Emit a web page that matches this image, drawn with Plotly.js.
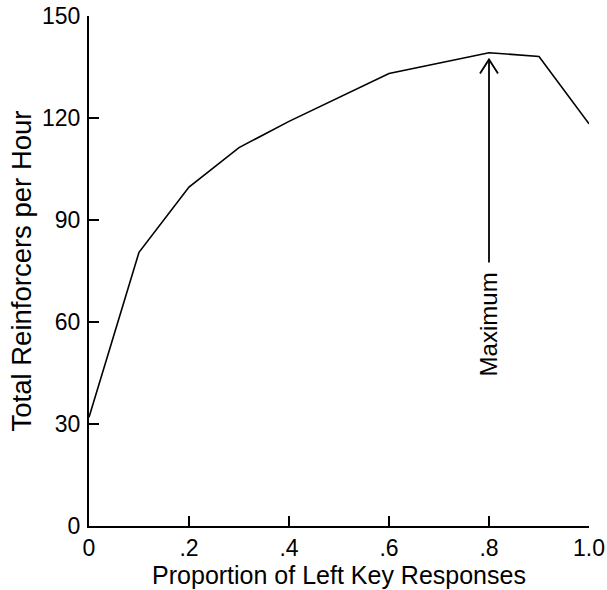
<!DOCTYPE html>
<html>
<head>
<meta charset="utf-8">
<script src="https://cdn.plot.ly/plotly-3.0.1.min.js"></script>
<style>html,body{margin:0;padding:0;background:#fff;}#chart{width:607px;height:590px;}</style>
</head>
<body>
<div id="chart"></div>
<script>
const proportion = [0, 0.1, 0.2, 0.3, 0.4, 0.6, 0.8, 0.9, 1.0];
const reinforcers = [32, 80.5, 99.7, 111.3, 119, 133.1, 139.2, 138.1, 118.3];
const xTickVals = [0, 0.2, 0.4, 0.6, 0.8, 1.0];
const xTickText = ['0', '.2', '.4', '.6', '.8', '1.0'];
const yTickVals = [0, 30, 60, 90, 120, 150];
const maxX = 0.8;
const arrowTipY = 137.2;
const arrowBaseY = 77.5;
const labelY = 59.3;

const FONT = 'Arial, "Liberation Sans", Helvetica, sans-serif';

const trace = {
  x: proportion, y: reinforcers, type: 'scatter', mode: 'lines',
  line: {color: '#000', width: 1.6}, hoverinfo: 'skip', showlegend: false
};

const layout = {
  width: 607, height: 590,
  margin: {l: 89, r: 18, t: 16, b: 64},
  paper_bgcolor: '#fff', plot_bgcolor: '#fff',
  font: {family: FONT, color: '#000'},
  xaxis: {
    range: [0, 1], showgrid: false, zeroline: false,
    showline: true, linecolor: '#000', linewidth: 2,
    ticks: 'inside', ticklen: 10, tickwidth: 2, tickcolor: '#000',
    tickvals: xTickVals, ticktext: xTickText,
    tickfont: {size: 23, family: FONT},
    title: {text: 'Proportion of Left Key Responses', font: {size: 25, family: FONT}, standoff: 7}
  },
  yaxis: {
    range: [0, 150], showgrid: false, zeroline: false,
    showline: true, linecolor: '#000', linewidth: 2,
    ticks: 'inside', ticklen: 10, tickwidth: 2, tickcolor: '#000',
    tickvals: yTickVals, ticklabelstandoff: 2,
    tickfont: {size: 23, family: FONT},
    title: {text: 'Total Reinforcers per Hour', font: {size: 27.5, family: FONT}, standoff: 2}
  },
  shapes: [
    {type: 'line', xref: 'x', yref: 'y', x0: maxX, x1: maxX, y0: arrowBaseY, y1: arrowTipY,
     line: {color: '#000', width: 1.8}},
    {type: 'path', xref: 'x', yref: 'y', xsizemode: 'pixel', ysizemode: 'pixel',
     xanchor: maxX, yanchor: arrowTipY, path: 'M-9,-14 L0,0 L9,-14',
     line: {color: '#000', width: 1.8}}
  ],
  annotations: [
    {x: maxX, y: labelY, xref: 'x', yref: 'y', text: 'Maximum', showarrow: false,
     textangle: -90, xshift: -1, font: {size: 24, family: FONT, color: '#000'}}
  ]
};

Plotly.newPlot('chart', [trace], layout, {displayModeBar: false, staticPlot: true});
</script>
</body>
</html>
